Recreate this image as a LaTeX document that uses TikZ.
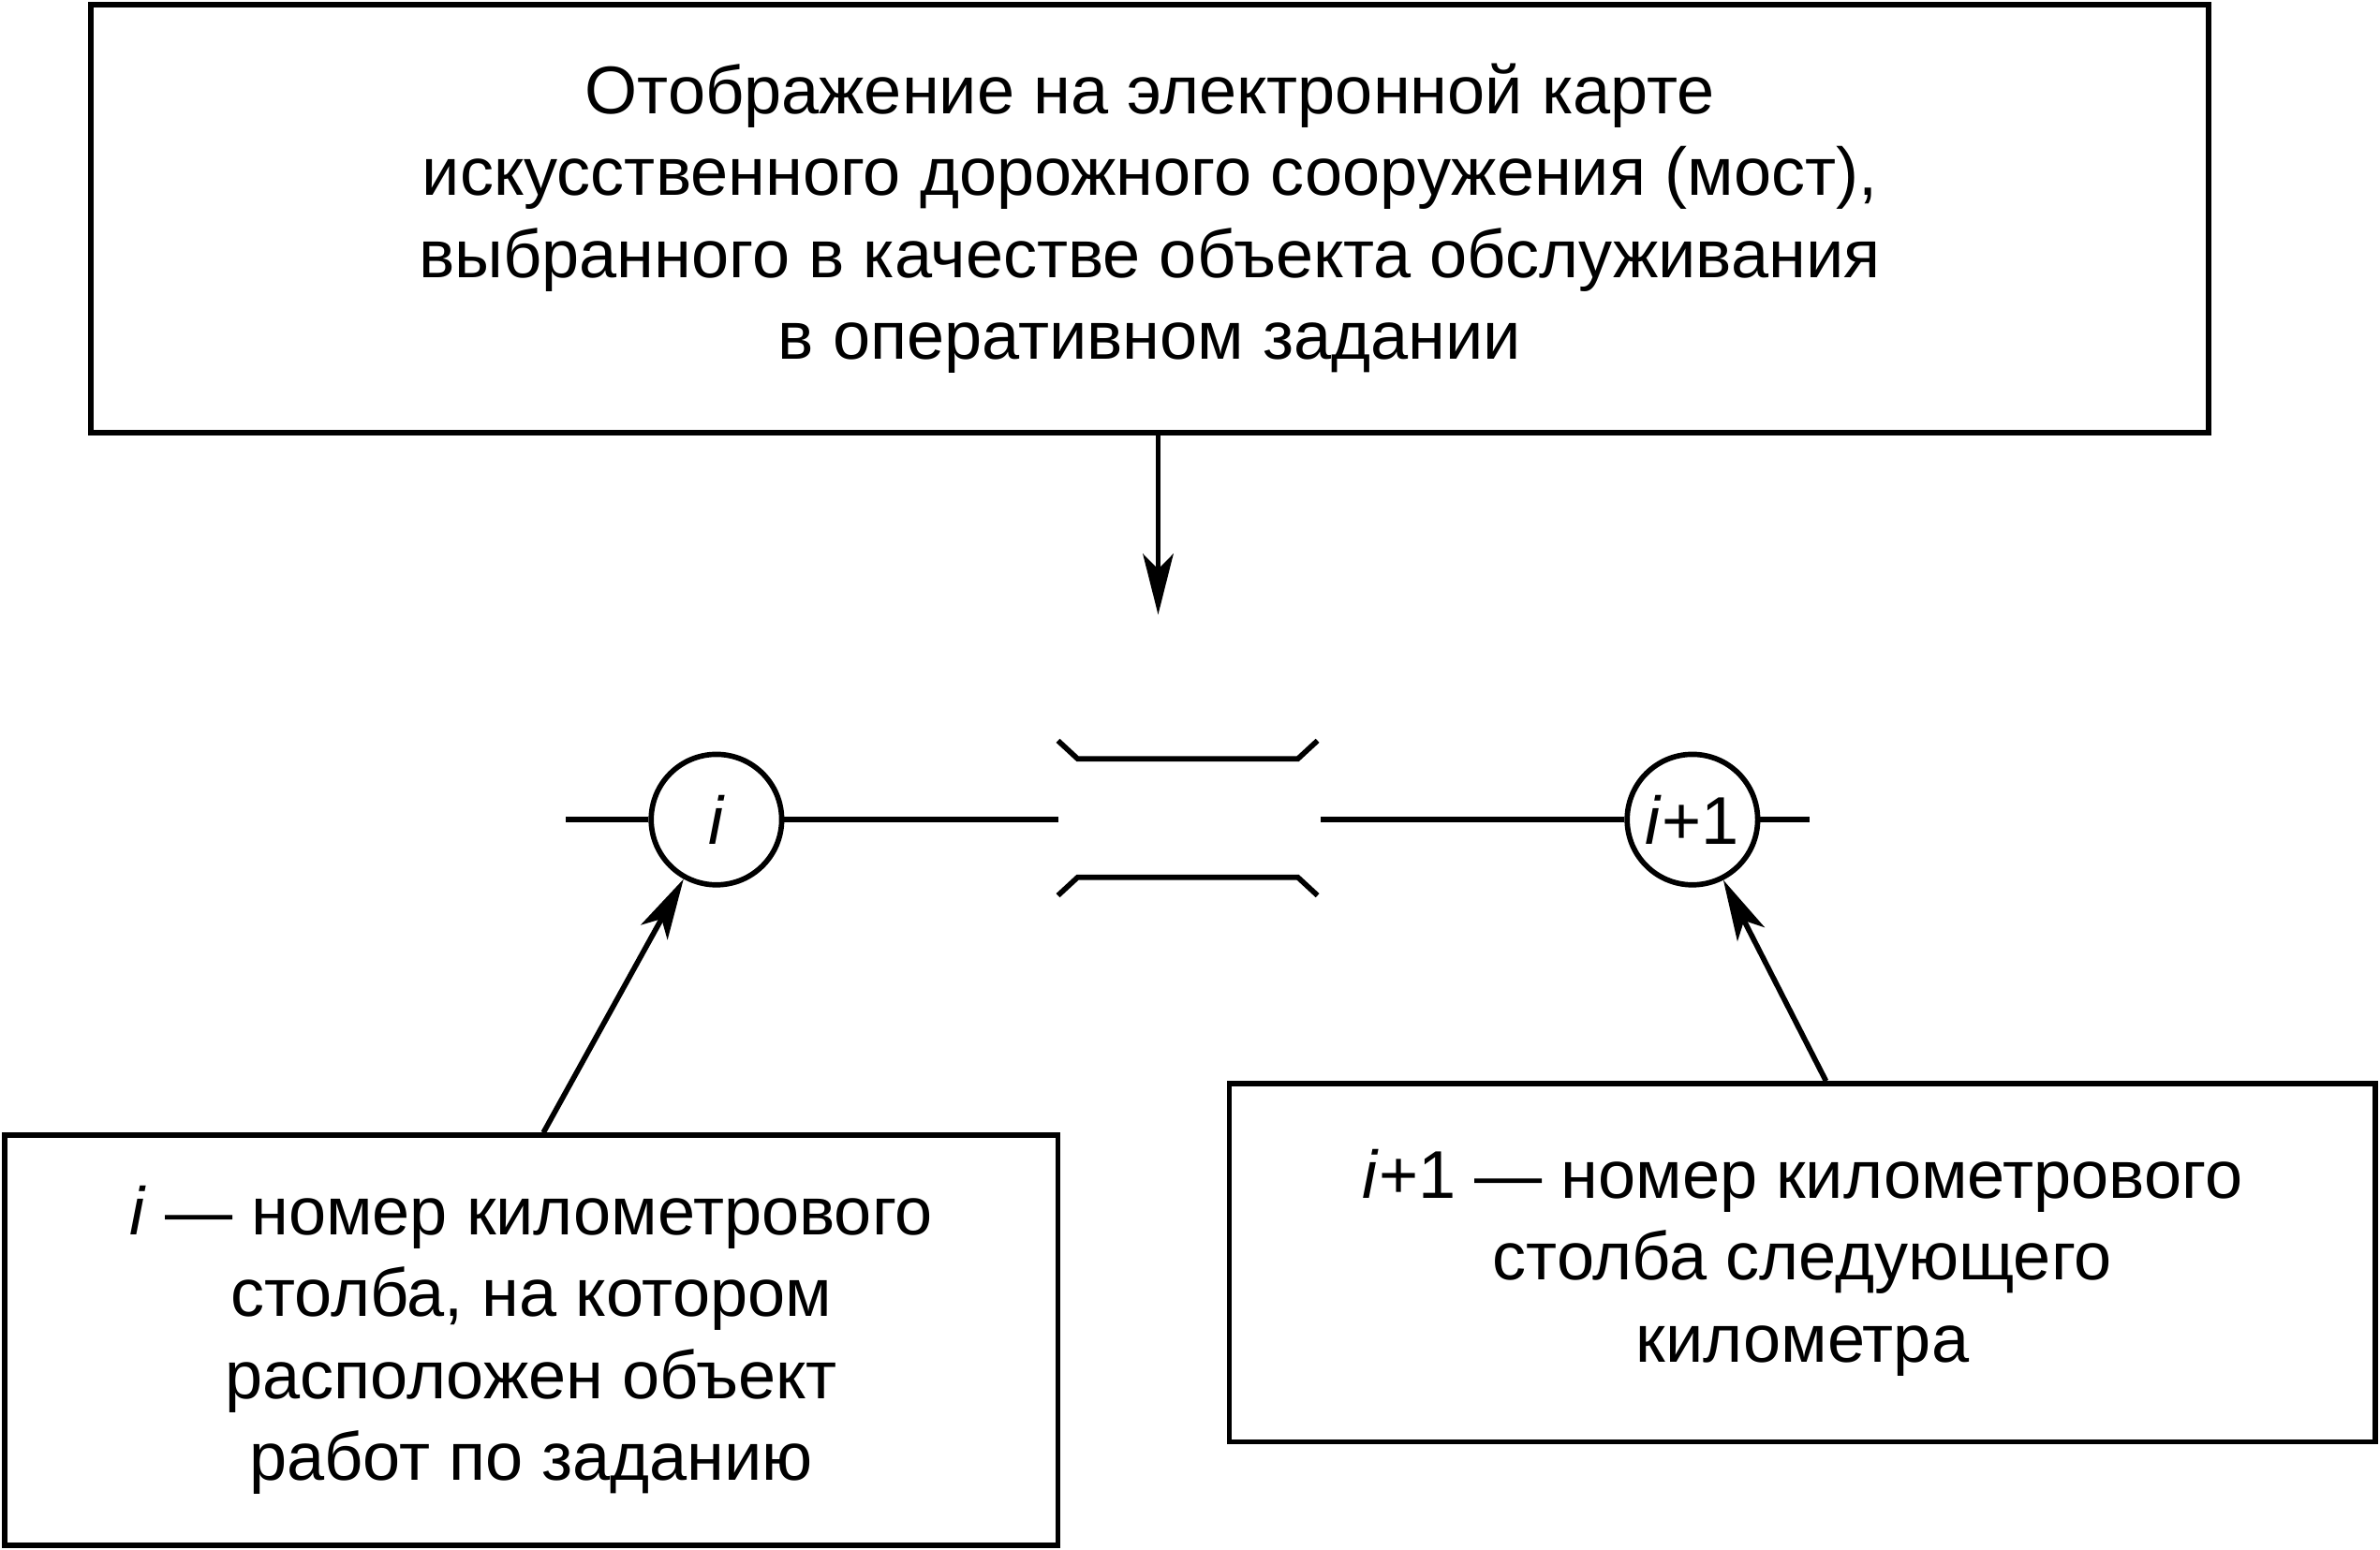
\documentclass[tikz,border=0pt]{standalone}
\usepackage{fontspec}
\setmainfont{Liberation Sans}
\usetikzlibrary{arrows.meta}
\begin{document}
\begin{tikzpicture}[x=1pt,y=-1pt,
  every node/.style={font=\fontsize{44.5}{54}\selectfont},
  boxn/.style={draw,line width=3.5pt,align=center,inner sep=0pt},
  post/.style={draw,circle,line width=3.5pt,minimum size=86pt,inner sep=0pt},
  ln/.style={line width=3.5pt},
  arr/.style={line width=3.5pt,-{Stealth[length=40pt,width=20pt,inset=10pt]}}]
\useasboundingbox (0,0) rectangle (1568,1021);
\node[boxn,minimum width=1395pt,minimum height=282pt] (top) at (757.5,144)
  {Отображение на электронной карте\\искусственного дорожного сооружения (мост),\\выбранного в качестве объекта обслуживания\\в оперативном задании};
\node[post] (c1) at (472,540) {\textit{i}};
\node[post] (c2) at (1115,540) {\textit{i}+1};
\node[boxn,minimum width=694pt,minimum height=270pt] (lbox) at (350,883)
  {\textit{i} — номер километрового\\столба, на котором\\расположен объект\\работ по заданию};
\node[boxn,minimum width=755pt,minimum height=236pt] (rbox) at (1187.5,832)
  {\textit{i}+1 — номер километрового\\столба следующего\\километра};
% arrow from top box
\coordinate (ts) at ([xshift=5.5pt]top.south);
\coordinate (te) at (763,405);
\draw[arr] (ts) -- (te);
% road line
\coordinate (l0) at (373,540);
\coordinate (l1) at (697,540);
\coordinate (r1) at (870,540);
\coordinate (r0) at (1192,540);
\draw[ln] (l0) -- (c1.west);
\draw[ln] (c1.east) -- (l1);
\draw[ln] (r1) -- (c2.west);
\draw[ln] (c2.east) -- (r0);
% bridge
\draw[ln] (697,488) -- (710,500) -- (855,500) -- (868,488);
\draw[ln] (697,590) -- (710,578) -- (855,578) -- (868,590);
% arrows to posts
\coordinate (ls) at ([xshift=8pt]lbox.north);
\coordinate (rs) at ([xshift=15.5pt]rbox.north);
\draw[arr] (ls) -- (c1);
\draw[arr] (rs) -- (c2);
\end{tikzpicture}
\end{document}
